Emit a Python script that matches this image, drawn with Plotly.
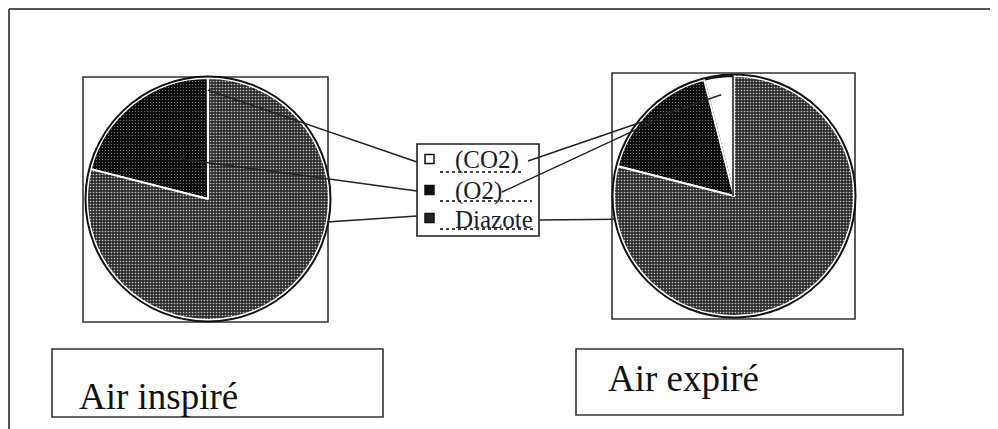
import math
import plotly.graph_objects as go

# page is 998x429, body has an 8px default margin -> figure 990x421
OFF = 8
W, H = 990, 421

# ---------------- data ----------------
gases = ["(CO2)", "(O2)", "Diazote"]
air_inspire = [0.03, 21.0, 78.97]   # % CO2, O2, N2
air_expire = [4.0, 17.0, 79.0]      # % CO2, O2, N2
titles = ["Air inspiré", "Air expiré"]

# ---------------- styles ----------------
bg_cols = ["#ffffff", "#0c0c0c", "#2f2f2f"]
fg_cols = ["#ffffff", "#8c8c8c", "#c2c2c2"]
edge_cols = ["#111111", "#ffffff", "#ffffff"]
legend_fill = ["#ffffff", "#111111", "#262626"]
shapes_pat = ["", ".", "."]
solid = [0.3, 0.12, 0.22]

# pie geometry (reference pixels, y downward)
pies = [
    dict(cx=208, cy=199, r=121, vals=air_inspire),
    dict(cx=734, cy=196, r=120, vals=air_expire),
]


def px(x):
    return (x - OFF) / W


def py(y):
    return 1 - (y - OFF) / H


fig = go.Figure()
for i, p in enumerate(pies):
    vals = p["vals"]
    # first slice should start at 12 o'clock and run counterclockwise
    rot = -360 * vals[0] / sum(vals)
    fig.add_trace(go.Pie(
        labels=gases,
        values=vals,
        sort=False,
        direction="counterclockwise",
        rotation=rot,
        textinfo="none",
        hoverinfo="label+percent",
        showlegend=False,
        domain=dict(x=[px(p["cx"] - p["r"]), px(p["cx"] + p["r"])],
                    y=[py(p["cy"] + p["r"]), py(p["cy"] - p["r"])]),
        marker=dict(
            colors=bg_cols,
            line=dict(color=edge_cols, width=2),
            pattern=dict(shape=shapes_pat, fgcolor=fg_cols, bgcolor=bg_cols,
                         size=3, solidity=solid, fillmode="replace"),
        ),
    ))


def slice_angle(p, idx, frac):
    vals = p["vals"]
    tot = sum(vals)
    start = 90 + 360 * sum(vals[:idx]) / tot
    span = 360 * vals[idx] / tot
    return math.radians(start + frac * span)


def slice_point(p, idx, frac, rfrac):
    a = slice_angle(p, idx, frac)
    return (p["cx"] + rfrac * p["r"] * math.cos(a),
            p["cy"] - rfrac * p["r"] * math.sin(a))


shapes = []


def line(x0, y0, x1, y1, w=1.6, color="#222", dash=None):
    d = dict(type="line", xref="paper", yref="paper",
             x0=px(x0), y0=py(y0), x1=px(x1), y1=py(y1),
             line=dict(color=color, width=w))
    if dash:
        d["line"]["dash"] = dash
    shapes.append(d)


def rect(x0, y0, x1, y1, w=1.6, color="#333", layer="below", fill=None):
    d = dict(type="rect", xref="paper", yref="paper",
             x0=px(x0), y0=py(y1), x1=px(x1), y1=py(y0),
             line=dict(color=color, width=w), layer=layer)
    if fill:
        d["fillcolor"] = fill
    shapes.append(d)


# outer frame
line(9, 9, 998, 9, w=2, color="#555")
line(9, 9, 9, 429, w=2, color="#555")

# boxes around pies
rect(83, 77, 328, 322)
rect(612, 73, 855, 319)

# black outlines of pies
for p in pies:
    rr = p["r"] + 1.5
    shapes.append(dict(type="circle", xref="paper", yref="paper",
                       x0=px(p["cx"] - rr), x1=px(p["cx"] + rr),
                       y0=py(p["cy"] + rr), y1=py(p["cy"] - rr),
                       line=dict(color="#111", width=2)))

# dark edge between CO2 slice and Diazote on the expired-air pie
p = pies[1]
a0 = slice_angle(p, 0, 0.0)
line(p["cx"] - 1, p["cy"], p["cx"] - 1 + p["r"] * math.cos(a0),
     p["cy"] - p["r"] * math.sin(a0), w=1.6, color="#222")

# ---------------- legend (box, markers, labels, dotted underlines) ----
rect(417, 144, 539, 236, w=1.6, color="#222", layer="above")
leg_y = [159, 190, 218]
under_y = [172, 201, 229]
under_x1 = [524, 532, 534]
annotations = []
for k, g in enumerate(gases):
    y = leg_y[k]
    rect(425, y - 4.5, 434, y + 4.5, w=1.5, color="#111", layer="above",
         fill=legend_fill[k])
    annotations.append(dict(
        text=g, x=px(453), y=py(y + 1), xref="paper", yref="paper",
        xanchor="left", yanchor="middle", showarrow=False,
        font=dict(family="Liberation Serif", size=25, color="#1a1a2a")))
    line(440, under_y[k], under_x1[k], under_y[k], w=2.2, color="#444",
         dash="dot")

# leader lines: pie anchors computed from slice angles
left_anchor = [slice_point(pies[0], 0, 0.5, 0.9),
               slice_point(pies[0], 1, 0.45, 0.4),
               slice_point(pies[0], 2, 0.645, 1.0)]
left_end = [(417, 162), (417, 191), (417, 216)]
right_anchor = [slice_point(pies[1], 0, 0.5, 0.85),
                slice_point(pies[1], 1, 0.5, 0.9),
                slice_point(pies[1], 2, 0.09, 1.0)]
right_end = [(528, 161), (502, 192), (539, 220)]
for (ax, ay), (ex, ey) in zip(left_anchor, left_end):
    line(ax, ay, ex, ey, w=1.5)
for (ax, ay), (ex, ey) in zip(right_anchor, right_end):
    line(ex, ey, ax, ay, w=1.5)

# label boxes
rect(52, 349, 383, 417)
rect(576, 349, 903, 415)

annotations += [
    dict(text=titles[0], x=px(77), y=py(396), xref="paper", yref="paper",
         xanchor="left", yanchor="middle", showarrow=False,
         font=dict(family="Liberation Serif", size=37, color="#111")),
    dict(text=titles[1], x=px(606), y=py(378), xref="paper", yref="paper",
         xanchor="left", yanchor="middle", showarrow=False,
         font=dict(family="Liberation Serif", size=37, color="#111")),
]

fig.update_layout(
    width=W, height=H,
    margin=dict(l=0, r=0, t=0, b=0),
    paper_bgcolor="white",
    plot_bgcolor="white",
    shapes=shapes,
    annotations=annotations,
    showlegend=False,
)

fig.write_html("out.html")
